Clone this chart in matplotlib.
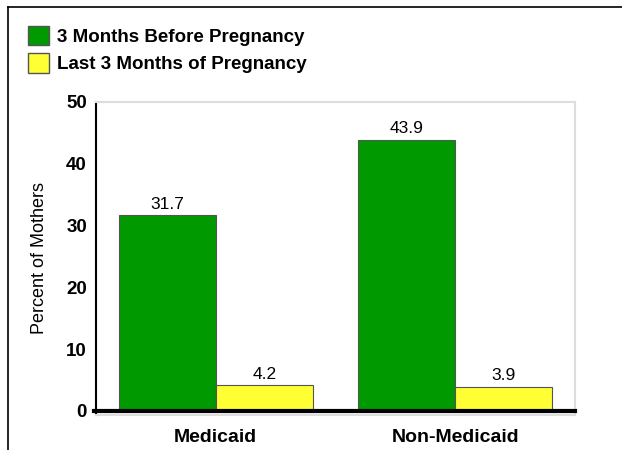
import matplotlib
matplotlib.use("Agg")
import matplotlib.pyplot as plt
from matplotlib.lines import Line2D
from matplotlib.patches import Patch
import numpy as np

categories = ["Medicaid", "Non-Medicaid"]
series_names = ["3 Months Before Pregnancy", "Last 3 Months of Pregnancy"]
before_vals = [31.7, 43.9]
last_vals = [4.2, 3.9]
yticks = [0, 10, 20, 30, 40, 50]

plt.rcParams['font.family'] = ['Liberation Sans', 'DejaVu Sans']

fig = plt.figure(figsize=(6.22, 4.5), dpi=100)
ax = fig.add_axes([96/622, 35/450, (575-96)/622, (415-102)/450])

green = "#009900"
yellow = "#FFFF33"
edge = "#555555"
x = np.arange(len(categories))
w = 0.405
b1 = ax.bar(x - w/2, before_vals, w, color=green, edgecolor=edge, linewidth=0.8, zorder=2)
b2 = ax.bar(x + w/2, last_vals, w, color=yellow, edgecolor=edge, linewidth=0.8, zorder=2)

for bars, vals in ((b1, before_vals), (b2, last_vals)):
    for r, v in zip(bars, vals):
        ax.text(r.get_x() + r.get_width()/2, v + 0.55, f"{v:.1f}", ha="center", va="bottom",
                fontsize=12.5, color="black")

ax.set_xlim(-0.5, 1.5)
ax.set_ylim(-0.65, 50)
ax.set_yticks(yticks)
ax.set_yticklabels([str(t) for t in yticks], fontsize=13.5, fontweight="bold")
ax.set_xticks(x)
ax.set_xticklabels(categories, fontsize=14, fontweight="bold")
ax.tick_params(axis="y", length=0, pad=6.5)
ax.tick_params(axis="x", length=0, pad=10)
ax.set_ylabel("Percent of Mothers", fontsize=13, labelpad=13)

for s in ("top", "right", "bottom"):
    ax.spines[s].set_color("#dddddd")
    ax.spines[s].set_linewidth(1.5)
ax.spines["left"].set_color("black")
ax.spines["left"].set_linewidth(1.5)

ax.axhline(0, xmin=-2/479, xmax=1.0, color="black", linewidth=3, clip_on=False, zorder=3)

handles = [Patch(facecolor=green, edgecolor=edge, label=series_names[0]),
           Patch(facecolor=yellow, edgecolor=edge, label=series_names[1])]
fig.legend(handles=handles, loc="upper left", bbox_to_anchor=(28/622, 1 - 26/450),
           frameon=False, prop={"weight": "bold", "size": 13.5}, handlelength=1.1,
           handleheight=1.2, handletextpad=0.45, labelspacing=0.4, borderpad=0,
           borderaxespad=0)

fig.add_artist(Line2D([8/622, 8/622], [0, 1 - 7/450], transform=fig.transFigure,
                      color="black", linewidth=1.2))
fig.add_artist(Line2D([8/622, 1], [1 - 7/450, 1 - 7/450], transform=fig.transFigure,
                      color="black", linewidth=1.2))

fig.savefig("out.png", dpi=100)
